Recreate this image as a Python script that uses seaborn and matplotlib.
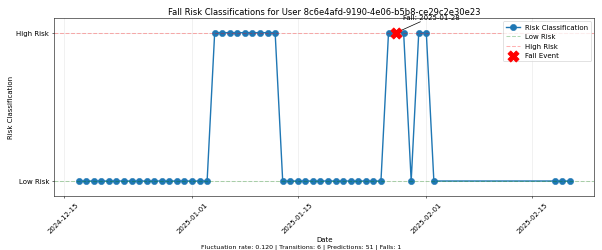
import matplotlib
matplotlib.use("Agg")
import matplotlib.pyplot as plt
import matplotlib.dates as mdates
import seaborn as sns
import pandas as pd
import numpy as np

# Data
dates = (list(pd.date_range("2024-12-17", "2025-02-02", freq="D"))
         + list(pd.date_range("2025-02-18", "2025-02-20", freq="D")))
risk = ([0] * 18 + [1] * 9 + [0] * 14 + [1, 1, 1, 0, 1, 1, 0] + [0, 0, 0])
fall_dates = [pd.Timestamp("2025-01-28")]
fall_values = [1]
title = "Fall Risk Classifications for User 8c6e4afd-9190-4e06-b5b8-ce29c2e30e23"
footer = "Fluctuation rate: 0.120 | Transitions: 6 | Predictions: 51 | Falls: 1"

df = pd.DataFrame({"date": dates, "risk": risk})

fig, ax = plt.subplots(figsize=(12, 5), dpi=602 / 12)

sns.lineplot(data=df, x="date", y="risk", marker="o", markersize=9, linewidth=2,
             color="#1f77b4", markeredgecolor="#1f77b4", ax=ax, label="Risk Classification")
ax.axhline(0, color="green", linestyle="--", linewidth=1.5, alpha=0.3, label="Low Risk")
ax.axhline(1, color="red", linestyle="--", linewidth=1.5, alpha=0.3, label="High Risk")
sns.scatterplot(x=fall_dates, y=fall_values, marker="X", s=250, color="red",
                edgecolor="red", ax=ax, label="Fall Event", zorder=5)
for d, v in zip(fall_dates, fall_values):
    ax.annotate(f"Fall: {d.strftime('%Y-%m-%d')}", xy=(d, v), xytext=(10, 20),
                textcoords="offset points", fontsize=10,
                arrowprops=dict(arrowstyle="->", color="black"))

ax.set_yticks([0, 1])
ax.set_yticklabels(["Low Risk", "High Risk"])
ax.set_ylim(-0.1, 1.1)
ax.set_title(title, fontsize=12)
ax.set_xlabel("Date", fontsize=10)
ax.set_ylabel("Risk Classification", fontsize=10)
ax.xaxis.set_major_locator(mdates.DayLocator(bymonthday=[1, 15]))
ax.xaxis.set_major_formatter(mdates.DateFormatter("%Y-%m-%d"))
ax.tick_params(axis="x", rotation=45)
ax.grid(True, alpha=0.3)
ax.legend(loc="upper right", fontsize=10)

plt.tight_layout()
fig.text(0.5, 0.01, footer, ha="center", fontsize=9)
fig.savefig("out.png", dpi=602 / 12)
